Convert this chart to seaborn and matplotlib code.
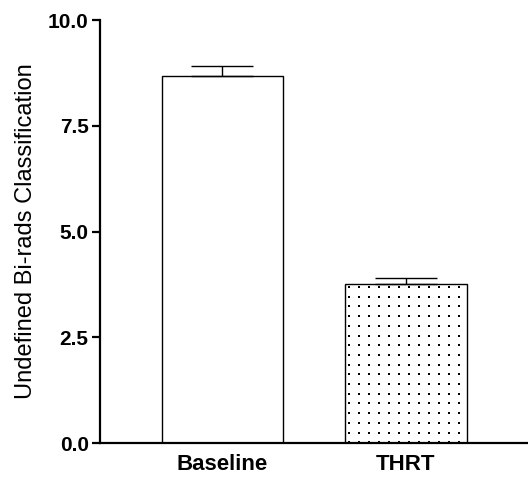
import numpy as np
import pandas as pd
import matplotlib
matplotlib.use("Agg")
import matplotlib.pyplot as plt
import seaborn as sns

# values
groups = ["Baseline", "THRT"]
means = [8.68, 3.76]
sems = [0.23, 0.15]
y_ticks = [0.0, 2.5, 5.0, 7.5, 10.0]

df = pd.DataFrame({"Group": groups, "Value": means})

sns.set_style("ticks")
plt.rcParams["font.family"] = ["Liberation Sans", "DejaVu Sans"]
plt.rcParams["text.color"] = "black"
plt.rcParams["axes.labelcolor"] = "black"
plt.rcParams["xtick.color"] = "black"
plt.rcParams["ytick.color"] = "black"

fig = plt.figure(figsize=(5.28, 4.78), dpi=100)
ax = fig.add_axes([0.189, 0.073, 0.811, 0.885])

sns.barplot(data=df, x="Group", y="Value", color="white", edgecolor="black",
            linewidth=1.0, width=0.66, ax=ax)

ax.set_ylim(0, 10)
ax.set_xlim(-0.668, 1.665)

# dotted fill for the THRT bar: a regular grid of small square dots (~10 px apart)
bar = ax.patches[1]
x0, x1 = bar.get_x(), bar.get_x() + bar.get_width()
y1 = bar.get_height()
px_x = (1.665 + 0.668) / (0.811 * 528)
px_y = 10 / (0.885 * 478)
dx, dy = 10 * px_x, 9.7 * px_y
xs = np.arange(x0 + 4 * px_x, x1 - 2 * px_x, dx)
ys = np.arange(y1 - 3 * px_y, 0, -dy)
gx, gy = np.meshgrid(xs, ys)
dots = ax.scatter(gx.ravel(), gy.ravel(), marker="s", s=3.0, color="black",
                  linewidths=0, zorder=3)
dots.set_clip_path(bar)

# upper-only error bars
ax.errorbar(range(len(groups)), means, yerr=[[0, 0], sems], fmt="none",
            ecolor="black", elinewidth=1.0, capsize=22, capthick=1.0)

ax.set_yticks(y_ticks)
ax.set_yticklabels([f"{t:.1f}" for t in y_ticks], fontsize=15, fontweight="bold")
ax.set_xticks(range(len(groups)))
ax.set_xticklabels(groups, fontsize=16, fontweight="bold")
ax.set_xlabel("")
ax.set_ylabel("Undefined Bi-rads Classification", fontsize=17, labelpad=8)

sns.despine(ax=ax)
for s in ["left", "bottom"]:
    ax.spines[s].set_linewidth(1.6)
    ax.spines[s].set_color("black")
    ax.spines[s].set_zorder(4)
ax.tick_params(axis="y", length=6, width=1.6, pad=2)
ax.tick_params(axis="x", length=0, pad=8)

fig.savefig("out.png", dpi=100)
